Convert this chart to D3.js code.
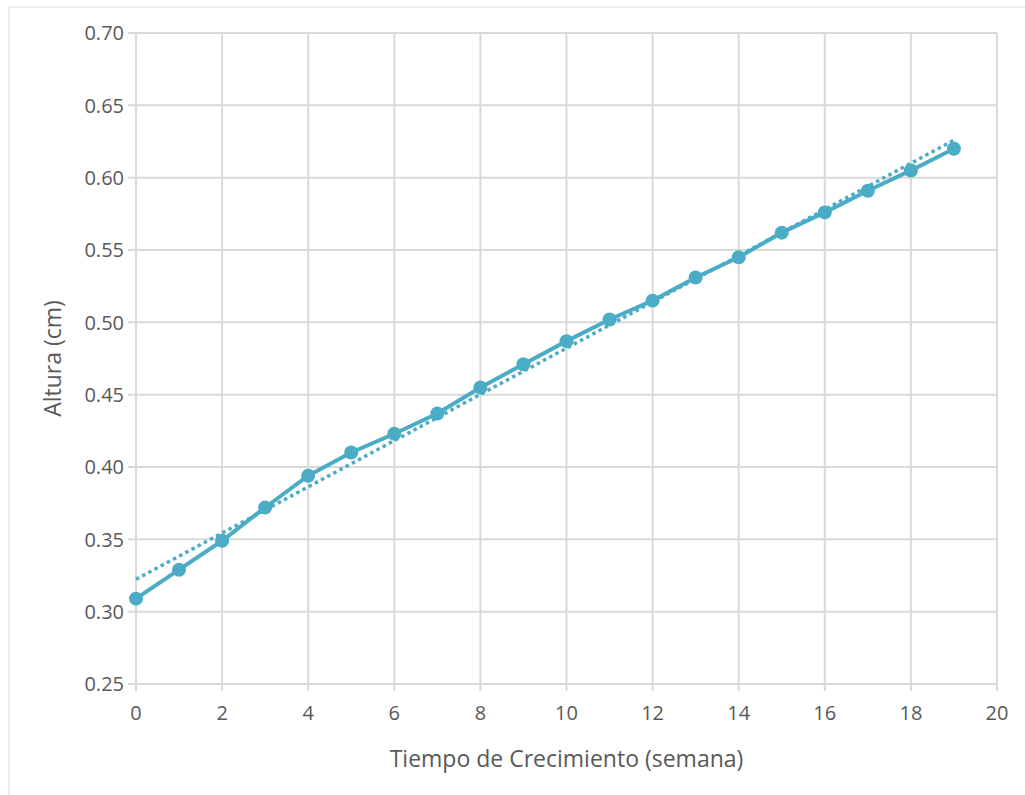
<!DOCTYPE html>
<html lang="es">
  <head>
    <meta charset="UTF-8" />
    <title>Altura vs Tiempo de Crecimiento</title>
    <style>
      body { margin: 0; background: #fff; }
      .chart { position: absolute; left: 8px; top: 6px; width: 1030px; height: 800px;
               border: 2px solid #ececec; box-sizing: border-box; }
      svg { position: absolute; left: 0; top: 0; font-family: "Open Sans", sans-serif; }
    </style>
  </head>
  <body>
    <div class="chart"></div>
    <svg width="1025" height="795"></svg>
    <script src="https://d3js.org/d3.v7.min.js"></script>
    <script>
      const semanas = [0, 1, 2, 3, 4, 5, 6, 7, 8, 9, 10, 11, 12, 13, 14, 15, 16, 17, 18, 19];
      const altura = [0.309, 0.329, 0.349, 0.372, 0.394, 0.410, 0.423, 0.437, 0.455, 0.471,
                      0.487, 0.502, 0.515, 0.531, 0.545, 0.562, 0.576, 0.591, 0.605, 0.620];
      const xTicks = [0, 2, 4, 6, 8, 10, 12, 14, 16, 18, 20];
      const yTicks = [0.25, 0.30, 0.35, 0.40, 0.45, 0.50, 0.55, 0.60, 0.65, 0.70];

      const color = "#4bacc6";
      const svg = d3.select("svg");

      const x = d3.scaleLinear().domain([0, 20]).range([136, 997]);
      const y = d3.scaleLinear().domain([0.25, 0.70]).range([684, 33]);

      // rejilla
      svg.append("g")
        .selectAll("line")
        .data(xTicks)
        .join("line")
        .attr("x1", (d) => x(d)).attr("x2", (d) => x(d))
        .attr("y1", y(0.70)).attr("y2", y(0.25) + 7)
        .attr("stroke", "#d9d9d9").attr("stroke-width", 2);

      svg.append("g")
        .selectAll("line")
        .data(yTicks)
        .join("line")
        .attr("x1", x(0) - 8).attr("x2", x(20))
        .attr("y1", (d) => y(d)).attr("y2", (d) => y(d))
        .attr("stroke", "#d9d9d9").attr("stroke-width", 2);

      // etiquetas de ejes
      svg.append("g")
        .selectAll("text")
        .data(yTicks)
        .join("text")
        .attr("x", x(0) - 12)
        .attr("y", (d) => y(d))
        .attr("dy", "0.36em")
        .attr("text-anchor", "end")
        .attr("font-size", 20)
        .attr("fill", "#595959")
        .text((d) => d3.format(".2f")(d));

      svg.append("g")
        .selectAll("text")
        .data(xTicks)
        .join("text")
        .attr("x", (d) => x(d))
        .attr("y", y(0.25) + 36)
        .attr("text-anchor", "middle")
        .attr("font-size", 20)
        .attr("fill", "#595959")
        .text((d) => d);

      svg.append("text")
        .attr("x", (x(0) + x(20)) / 2)
        .attr("y", 767)
        .attr("text-anchor", "middle")
        .attr("font-size", 23)
        .attr("fill", "#595959")
        .text("Tiempo de Crecimiento (semana)");

      svg.append("text")
        .attr("transform", `translate(61,${(y(0.25) + y(0.70)) / 2}) rotate(-90)`)
        .attr("text-anchor", "middle")
        .attr("font-size", 23)
        .attr("fill", "#595959")
        .text("Altura (cm)");

      // línea de tendencia lineal (mínimos cuadrados)
      const mx = d3.mean(semanas), my = d3.mean(altura);
      const b = d3.sum(semanas, (s, i) => (s - mx) * (altura[i] - my)) /
                d3.sum(semanas, (s) => (s - mx) * (s - mx));
      const a = my - b * mx;
      const x0 = semanas[0], x1 = semanas[semanas.length - 1];

      const data = semanas.map((s, i) => ({ s, h: altura[i] }));
      const line = d3.line().x((d) => x(d.s)).y((d) => y(d.h));

      svg.append("path")
        .datum(data)
        .attr("d", line)
        .attr("fill", "none")
        .attr("stroke", color)
        .attr("stroke-width", 4);

      svg.append("line")
        .attr("x1", x(x0)).attr("y1", y(a + b * x0))
        .attr("x2", x(x1)).attr("y2", y(a + b * x1))
        .attr("stroke", color)
        .attr("stroke-width", 3.5)
        .attr("stroke-dasharray", "3.5 3.5");

      svg.append("g")
        .selectAll("circle")
        .data(data)
        .join("circle")
        .attr("cx", (d) => x(d.s))
        .attr("cy", (d) => y(d.h))
        .attr("r", 7)
        .attr("fill", color);
    </script>
  </body>
</html>
